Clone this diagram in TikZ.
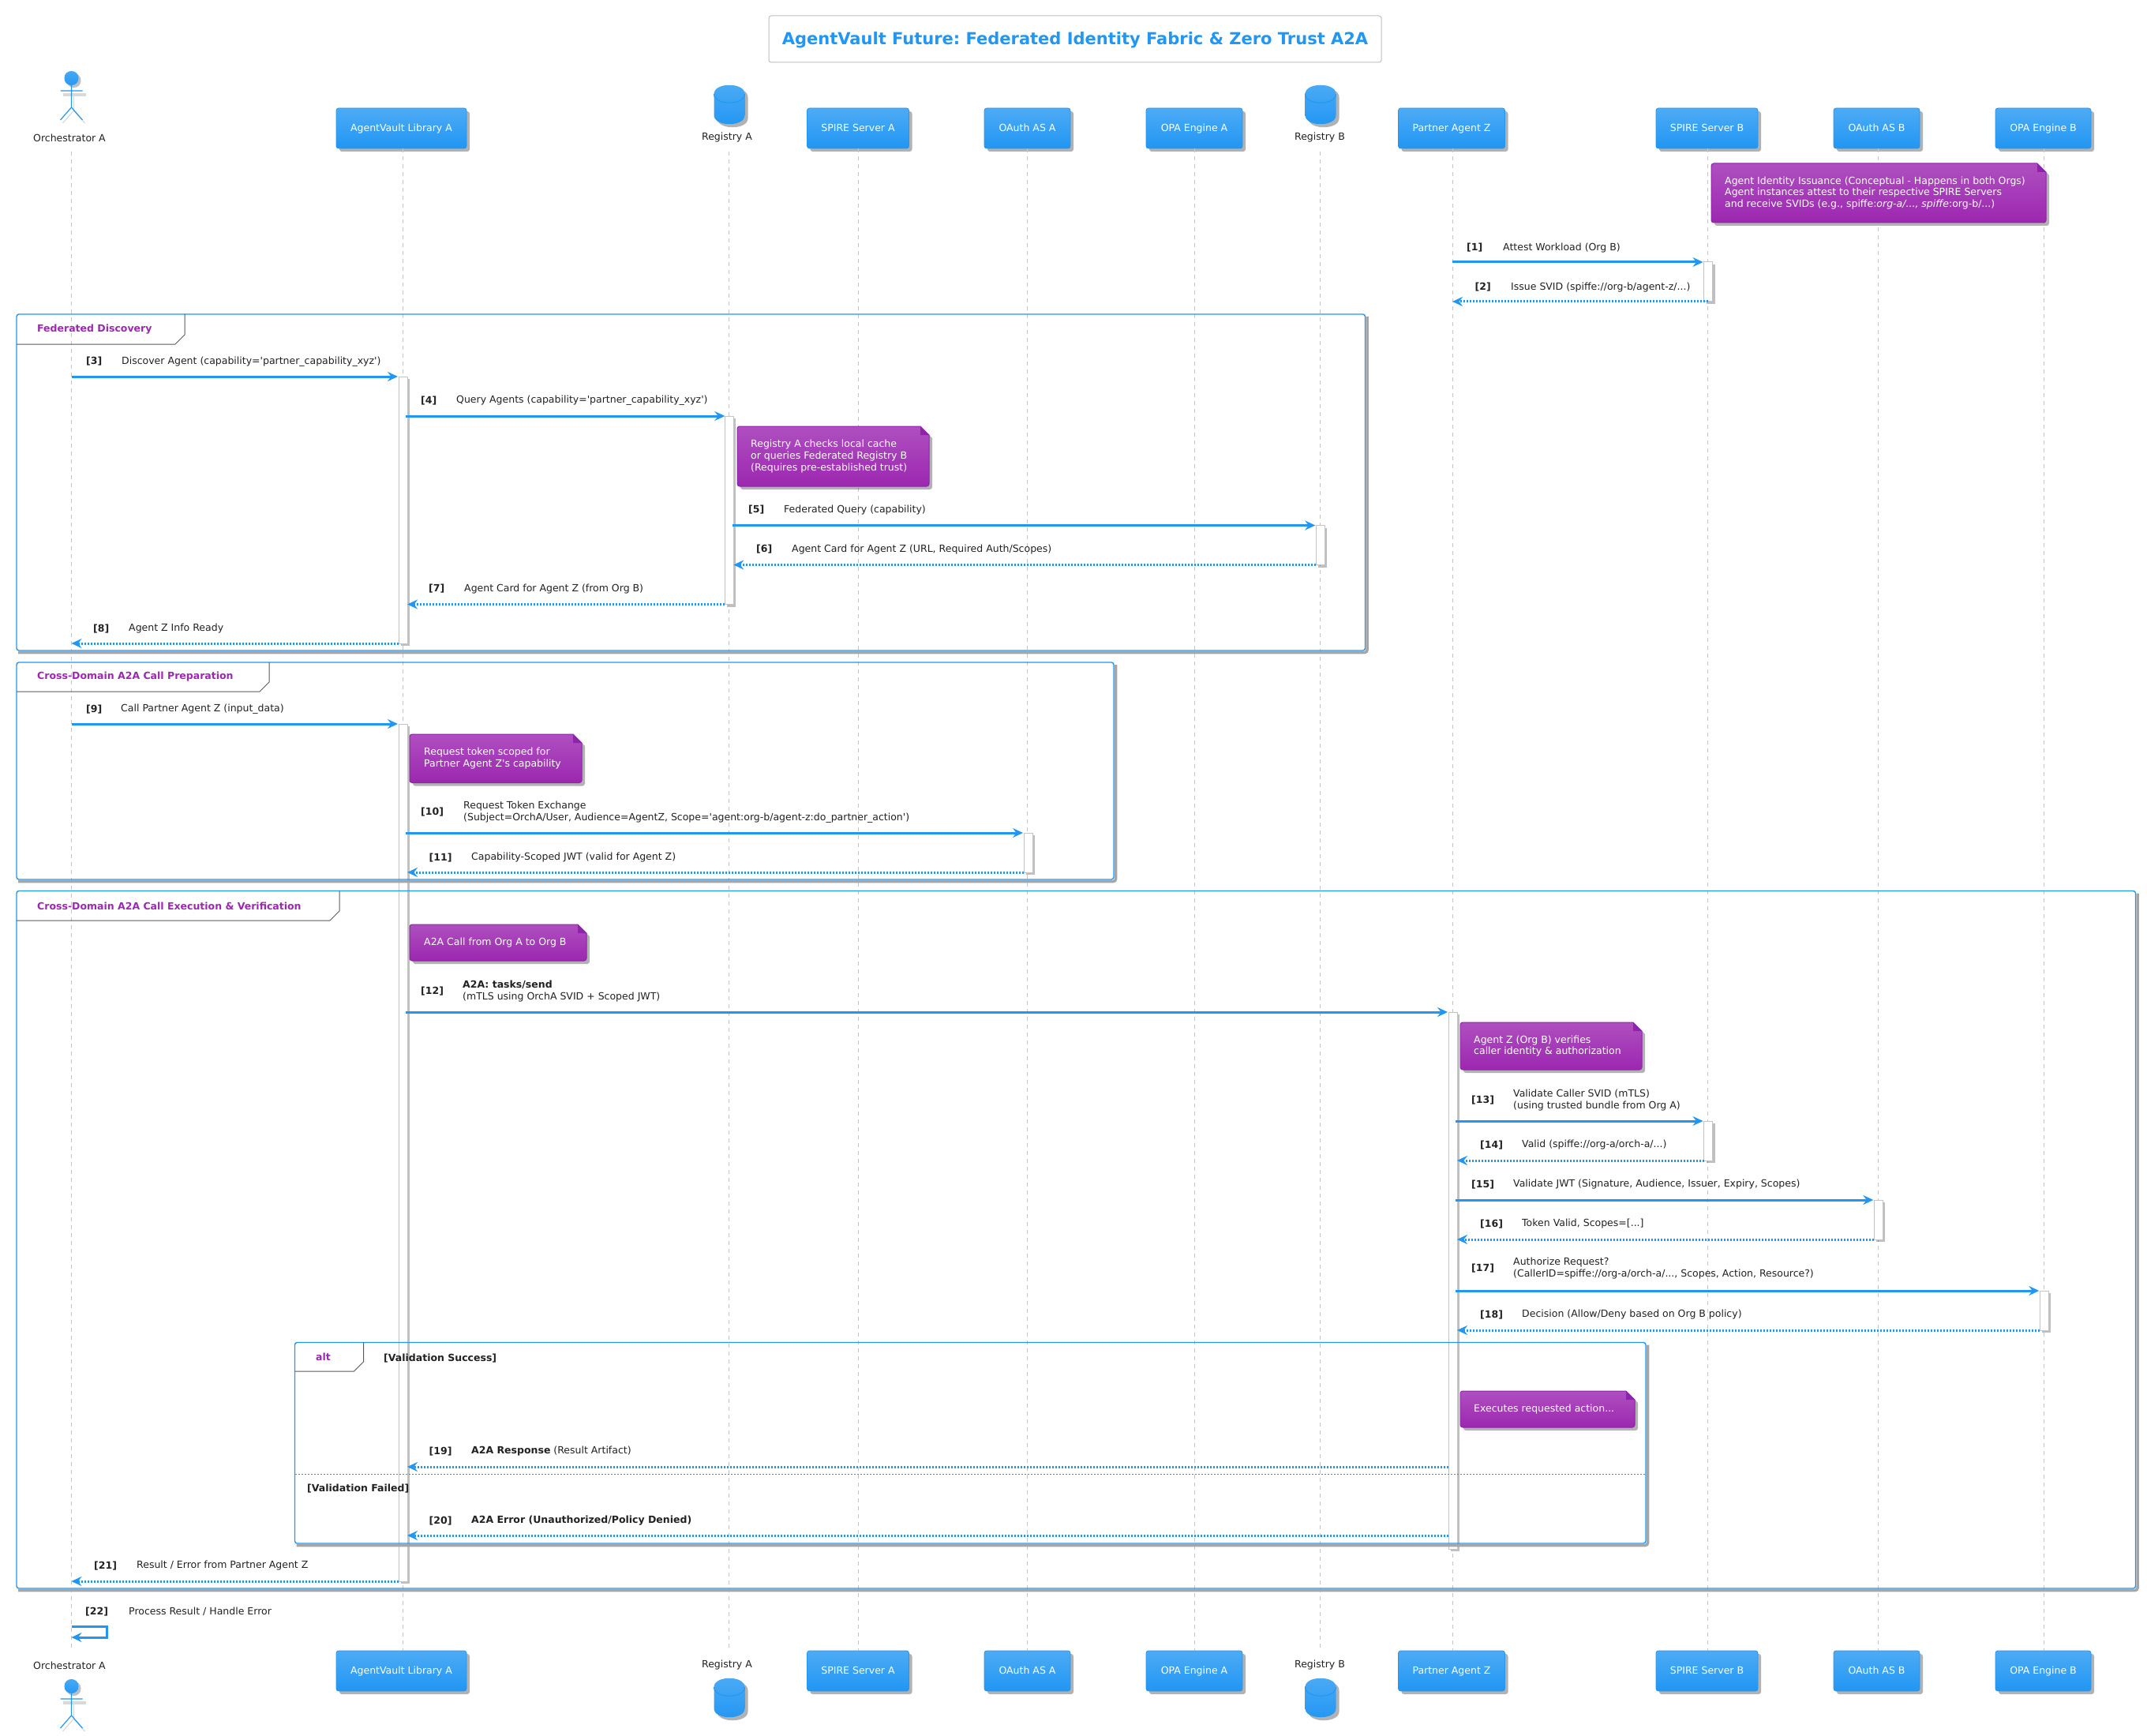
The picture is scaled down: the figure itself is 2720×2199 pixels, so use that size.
\documentclass[tikz,border=0pt]{standalone}
\usepackage{fontspec}
\setmainfont{DejaVu Sans}
\usepackage{tikz}
\usetikzlibrary{arrows.meta,shadows}
\definecolor{mblue}{HTML}{2196F3}
\definecolor{mblueup}{HTML}{4DABF5}
\definecolor{mpurple}{HTML}{9C27B0}
\definecolor{mpurpleup}{HTML}{AF4FC0}
\definecolor{mpurpledark}{HTML}{8E24AA}
\definecolor{minkgray}{HTML}{212121}
\definecolor{mlinegray}{HTML}{C4C4C4}
\frenchspacing
\tikzset{
	partbox/.style={draw=mblue,line width=0.8pt,rounded corners=3pt,top color=mblueup,bottom color=mblue,text=white,font=\fontsize{12.5}{14.7}\selectfont,minimum height=51pt,inner sep=0pt,text height=10.5pt,text depth=2.5pt,drop shadow={shadow xshift=4pt,shadow yshift=-4pt,fill=black,opacity=0.3}},
	plainlab/.style={anchor=west,inner sep=0pt,align=left,text=minkgray,font=\fontsize{12.5}{14.7}\selectfont},
	numlab/.style={plainlab,font=\fontsize{12.5}{14.7}\selectfont\bfseries},
	notelab/.style={plainlab,text=white},
	grouplab/.style={plainlab,text=mpurple,font=\fontsize{12.5}{14.7}\selectfont\bfseries},
	lifeline/.style={draw=mlinegray,line width=1pt,dash pattern=on 5pt off 5pt},
	syncline/.style={draw=mblue,line width=3pt,-{Stealth[length=13pt,width=12pt,inset=4.5pt]}},
	retline/.style={draw=mblue,line width=3pt,dash pattern=on 2pt off 2pt,-{Stealth[length=13pt,width=12pt,inset=4.5pt]}},
	actbar/.style={draw=mlinegray,line width=1pt,fill=white,drop shadow={shadow xshift=3pt,shadow yshift=-3pt,fill=black,opacity=0.25}},
	framesh/.style={draw=black!35,line width=3.5pt},
	framebl/.style={draw=mblue,line width=1.4pt},
}
% message: style, id, x1, x2, y, y of label, x of number, x of text, text
\newcommand{\msgline}[9]{
	\coordinate (m#2s) at (#3,#5);
	\coordinate (m#2e) at (#4,#5);
	\draw[#1] (m#2s) -- (m#2e);
	\node[numlab] (n#2) at (#7,#6) {[#2]};
	\node[plainlab] (t#2) at (#8,#6) {#9};
}
% note with folded corner: id, x1, y1, x2, y2, x of text, text
\newcommand{\notebubble}[7]{
	\path[top color=mpurpleup,bottom color=mpurple,draw=mpurpledark,line width=1pt,drop shadow={shadow xshift=4pt,shadow yshift=-4pt,fill=black,opacity=0.3}] (#4-11,#3) -- (#4,#3+11) [rounded corners=3pt] -- (#4,#5) -- (#2,#5) -- (#2,#3) [sharp corners] -- cycle;
	\fill[mpurpledark] (#4-11,#3) -- (#4-11,#3+11) -- (#4,#3+11) -- cycle;
	\node[notelab] (#1) at (#6,{(#3+#5)/2}) {#7};
}
% frame: x1, y1, x2, y2, tab right, tab bottom
\newcommand{\groupframe}[6]{
	\draw[framesh,rounded corners=3pt] (#1+2,#4+2.5) -- (#3+2.5,#4+2.5) -- (#3+2.5,#2+3);
	\draw[framebl,rounded corners=3pt] (#1,#2) rectangle (#3,#4);
	\draw[draw=black!65,line width=1pt] (#1,#6) -- (#5-12,#6) -- (#5,#6-12) -- (#5,#2);
}
\newcommand{\actorman}[2]{
	\draw[black!15,line width=4pt] (#1-11,#2+21) -- (#1+18,#2+21);
	\draw[black!15,line width=1.2pt] (#1+3,#2+20) -- (#1+3,#2+41) (#1-11,#2+57) -- (#1+3,#2+41) -- (#1+17,#2+57);
	\path[top color=mblueup,bottom color=mblue,drop shadow={shadow xshift=3pt,shadow yshift=-3pt,fill=black,opacity=0.25}] (#1-9,#2) .. controls (#1-9,#2-12) and (#1+9,#2-12) .. (#1+9,#2) .. controls (#1+9,#2+12) and (#1-9,#2+12) .. (#1-9,#2) -- cycle;
	\draw[mblue,line width=1.2pt] (#1,#2+9) -- (#1,#2+37) (#1-14,#2+16) -- (#1+14,#2+16) (#1-14,#2+53) -- (#1,#2+37) -- (#1+14,#2+53);
}
\newcommand{\dbcan}[2]{
	\path[top color=mblueup,bottom color=mblue,drop shadow={shadow xshift=4pt,shadow yshift=-4pt,fill=black,opacity=0.3}] (#1-19.5,#2+11) .. controls (#1-19.5,#2-4) and (#1+19.5,#2-4) .. (#1+19.5,#2+11) -- (#1+19.5,#2+38) .. controls (#1+19.5,#2+53) and (#1-19.5,#2+53) .. (#1-19.5,#2+38) -- cycle;
	\draw[mblue,line width=1pt] (#1-19.5,#2+11) .. controls (#1-19.5,#2+26) and (#1+19.5,#2+26) .. (#1+19.5,#2+11);
}
\begin{document}
\begin{tikzpicture}[x=1pt,y=-1pt]
	%%%%% START %%%%%
	\def\xorch{90.5}
	\def\xlib{510}
	\def\xrega{923.3}
	\def\xspa{1087}
	\def\xoaa{1302}
	\def\xopa{1513}
	\def\xregb{1672.3}
	\def\xpart{1840}
	\def\xspb{2163.5}
	\def\xoab{2379.3}
	\def\xopb{2589.3}
	\def\ytop{162.5}
	\def\ybot{2116.5}
	
	\useasboundingbox (0,0) rectangle (2720,2199);
	
	\node[draw=black!25,line width=1pt,rounded corners=3pt,fill=white,minimum width=776pt,minimum height=59pt,text=mblue,text height=17pt,text depth=2pt,font=\fontsize{21}{25}\selectfont\bfseries] (title) at (1362,49.5) {AgentVault Future: Federated Identity Fabric \& Zero Trust A2A};
	
	% heads
	\actorman{\xorch}{99}
	\node[plainlab,anchor=center] (orch) at (88,174.5) {Orchestrator A};
	\coordinate (orchup) at (\xorch,192);
	\node[partbox,minimum width=165pt] (lib) at (508.5,\ytop) {AgentVault Library A};
	\dbcan{924}{108}
	\node[plainlab,anchor=center] (rega) at (921,174.5) {Registry A};
	\coordinate (regaup) at (\xrega,192);
	\node[partbox,minimum width=129pt] (spa) at (1087,\ytop) {SPIRE Server A};
	\node[partbox,minimum width=109pt] (oaa) at (1301.5,\ytop) {OAuth AS A};
	\node[partbox,minimum width=122pt] (opa) at (1513,\ytop) {OPA Engine A};
	\dbcan{1673}{108}
	\node[plainlab,anchor=center] (regb) at (1672,174.5) {Registry B};
	\coordinate (regbup) at (\xregb,192);
	\node[partbox,minimum width=135pt] (part) at (1839,\ytop) {Partner Agent Z};
	\node[partbox,minimum width=129pt] (spb) at (2162.5,\ytop) {SPIRE Server B};
	\node[partbox,minimum width=109pt] (oab) at (2377.5,\ytop) {OAuth AS B};
	\node[partbox,minimum width=121pt] (opb) at (2588.5,\ytop) {OPA Engine B};
	
	% feet
	\actorman{\xorch}{2136}
	\node[plainlab,anchor=center] (orchf) at (88,2109.5) {Orchestrator A};
	\coordinate (orchdn) at (\xorch,2092);
	\node[partbox,minimum width=165pt] (libf) at (508.5,\ybot) {AgentVault Library A};
	\dbcan{924}{2126}
	\node[plainlab,anchor=center] (regaf) at (921,2109.5) {Registry A};
	\coordinate (regadn) at (\xrega,2092);
	\node[partbox,minimum width=129pt] (spaf) at (1087,\ybot) {SPIRE Server A};
	\node[partbox,minimum width=109pt] (oaaf) at (1301.5,\ybot) {OAuth AS A};
	\node[partbox,minimum width=122pt] (opaf) at (1513,\ybot) {OPA Engine A};
	\dbcan{1673}{2126}
	\node[plainlab,anchor=center] (regbf) at (1672,2109.5) {Registry B};
	\coordinate (regbdn) at (\xregb,2092);
	\node[partbox,minimum width=135pt] (partf) at (1839,\ybot) {Partner Agent Z};
	\node[partbox,minimum width=129pt] (spbf) at (2162.5,\ybot) {SPIRE Server B};
	\node[partbox,minimum width=109pt] (oabf) at (2377.5,\ybot) {OAuth AS B};
	\node[partbox,minimum width=121pt] (opbf) at (2588.5,\ybot) {OPA Engine B};
	
	% lifelines
	\draw[lifeline] (orchup) -- (orchdn);
	\draw[lifeline] (lib.south -| \xlib,0) -- (libf.north -| \xlib,0);
	\draw[lifeline] (regaup) -- (regadn);
	\draw[lifeline] (spa.south) -- (spaf.north);
	\draw[lifeline] (oaa.south) -- (oaaf.north);
	\draw[lifeline] (opa.south) -- (opaf.north);
	\draw[lifeline] (regbup) -- (regbdn);
	\draw[lifeline] (part.south -| \xpart,0) -- (partf.north -| \xpart,0);
	\draw[lifeline] (spb.south -| \xspb,0) -- (spbf.north -| \xspb,0);
	\draw[lifeline] (oab.south -| \xoab,0) -- (oabf.north -| \xoab,0);
	\draw[lifeline] (opb.south -| \xopb,0) -- (opbf.north -| \xopb,0);
	
	% activations
	\draw[actbar] (\xspb-5,332) rectangle (\xspb+6,382);
	\draw[actbar] (\xlib-5,477) rectangle (\xlib+6,815);
	\draw[actbar] (\xrega-5,527) rectangle (\xrega+6,765.5);
	\draw[actbar] (\xregb-5,665.5) rectangle (\xregb+6,715.5);
	\draw[actbar] (\xlib-5,917) rectangle (\xlib+6,2003);
	\draw[actbar] (\xoaa-5,1055) rectangle (\xoaa+6,1105);
	\draw[actbar] (\xpart-5,1282) rectangle (\xpart+6,1962);
	\draw[actbar] (\xspb-5,1420) rectangle (\xspb+6,1470);
	\draw[actbar] (\xoab-5,1520) rectangle (\xoab+6,1570);
	\draw[actbar] (\xopb-5,1635) rectangle (\xopb+6,1685);
	
	% groups
	\groupframe{21}{398}{1729.5}{824}{234}{436}
	\node[grouplab] (grpone) at (47,417.5) {Federated Discovery};
	\groupframe{21}{839}{1411}{1114}{341}{876}
	\node[grouplab] (grptwo) at (47,857.5) {Cross-Domain A2A Call Preparation};
	\groupframe{21}{1128.5}{2705.5}{2012}{430}{1166}
	\node[grouplab] (grpthree) at (47,1147.5) {Cross-Domain A2A Call Execution \& Verification};
	\groupframe{373.5}{1700.5}{2085}{1955}{460.5}{1737}
	\node[grouplab] (grpalt) at (400,1719) {alt};
	\node[numlab] (altok) at (486,1720.5) {[Validation Success]};
	\draw[mblue,line width=1pt,dash pattern=on 2pt off 2pt] (373.5,1867) -- (2085,1867);
	\node[numlab] (altno) at (389,1885.5) {[Validation Failed]};
	
	% notes
	\notebubble{noteone}{2168}{207}{2592}{282}{2185}{Agent Identity Issuance (Conceptual - Happens in both Orgs)\\Agent instances attest to their respective SPIRE Servers\\and receive SVIDs (e.g., spiffe:\textit{org-a/..., spiffe}:org-b/...)}
	\notebubble{notetwo}{934}{540}{1177}{616}{951}{Registry A checks local cache\\or queries Federated Registry B\\(Requires pre-established trust)}
	\notebubble{notethree}{519}{930}{737}{991.5}{537}{Request token scoped for\\Partner Agent Z\textquotesingle s capability}
	\notebubble{notefour}{519}{1171}{743}{1217}{537}{A2A Call from Org A to Org B}
	\notebubble{notefive}{1850}{1295}{2080}{1355}{1867}{Agent Z (Org B) verifies\\caller identity \& authorization}
	\notebubble{notesix}{1850}{1762}{2071}{1808}{1867}{Executes requested action...}
	
	% messages
	\msgline{syncline}{1}{\xpart}{\xspb-6}{332}{314}{1858}{1904}{Attest Workload (Org B)}
	\msgline{retline}{2}{\xspb}{\xpart}{382}{364}{1868.5}{1914}{Issue SVID (spiffe://org-b/agent-z/...)}
	\msgline{syncline}{3}{\xorch}{\xlib-6}{477}{458}{109}{154}{Discover Agent (capability=\textquotesingle partner\_capability\_xyz\textquotesingle)}
	\msgline{syncline}{4}{\xlib+4}{\xrega-5}{527}{507.5}{533}{578}{Query Agents (capability=\textquotesingle partner\_capability\_xyz\textquotesingle)}
	\msgline{syncline}{5}{\xrega+5}{\xregb-6}{665.5}{646}{948}{993}{Federated Query (capability)}
	\msgline{retline}{6}{\xregb-5}{\xrega+6}{715.5}{696}{958}{1003}{Agent Card for Agent Z (URL, Required Auth/Scopes)}
	\msgline{retline}{7}{\xrega-5}{\xlib+6}{765.5}{746}{543}{588}{Agent Card for Agent Z (from Org B)}
	\msgline{retline}{8}{\xlib-5}{\xorch}{815}{796.5}{118}{163}{Agent Z Info Ready}
	\msgline{syncline}{9}{\xorch}{\xlib-6}{917}{898.5}{109}{153}{Call Partner Agent Z (input\_data)}
	\msgline{syncline}{10}{\xlib+4}{\xoaa-6}{1055}{1029}{533}{587}{Request Token Exchange\\(Subject=OrchA/User, Audience=AgentZ, Scope=\textquotesingle agent:org-b/agent-z:do\_partner\_action\textquotesingle)}
	\msgline{retline}{11}{\xoaa-5}{\xlib+6}{1105}{1086.5}{543.5}{597}{Capability-Scoped JWT (valid for Agent Z)}
	\msgline{syncline}{12}{\xlib+4}{\xpart-6}{1282}{1255.5}{533}{586}{\textbf{A2A: tasks/send}\\(mTLS using OrchA SVID + Scoped JWT)}
	\msgline{syncline}{13}{\xpart+4}{\xspb-6}{1420}{1393.5}{1864}{1917}{Validate Caller SVID (mTLS)\\(using trusted bundle from Org A)}
	\msgline{retline}{14}{\xspb-5}{\xpart+6}{1470}{1450.5}{1875}{1928}{Valid (spiffe://org-a/orch-a/...)}
	\msgline{syncline}{15}{\xpart+4}{\xoab-6}{1520}{1500.5}{1864}{1917}{Validate JWT (Signature, Audience, Issuer, Expiry, Scopes)}
	\msgline{retline}{16}{\xoab-5}{\xpart+6}{1570}{1550.5}{1875}{1928}{Token Valid, Scopes=[...]}
	\msgline{syncline}{17}{\xpart+4}{\xopb-6}{1635}{1606.5}{1864}{1917}{Authorize Request?\\(CallerID=spiffe://org-a/orch-a/..., Scopes, Action, Resource?)}
	\msgline{retline}{18}{\xopb-5}{\xpart+6}{1685}{1665.5}{1875}{1928}{Decision (Allow/Deny based on Org B policy)}
	\msgline{retline}{19}{\xpart-5}{\xlib+6}{1858}{1838.5}{543.5}{597}{\textbf{A2A Response} (Result Artifact)}
	\msgline{retline}{20}{\xpart-5}{\xlib+6}{1945}{1926.5}{543.5}{597}{\textbf{A2A Error (Unauthorized/Policy Denied)}}
	\msgline{retline}{21}{\xlib-5}{\xorch}{2003}{1983.5}{119}{173}{Result / Error from Partner Agent Z}
	
	% the self call
	\coordinate (selfa) at (\xorch,2060);
	\coordinate (selfb) at (135,2060);
	\coordinate (selfc) at (135,2074);
	\coordinate (selfd) at (\xorch,2074);
	\draw[syncline] (selfa) -- (selfb) -- (selfc) -- (selfd);
	\node[numlab] (n22) at (108,2041.5) {[22]};
	\node[plainlab] (t22) at (163,2041.5) {Process Result / Handle Error};
	%%%%% END %%%%%
\end{tikzpicture}
\end{document}
